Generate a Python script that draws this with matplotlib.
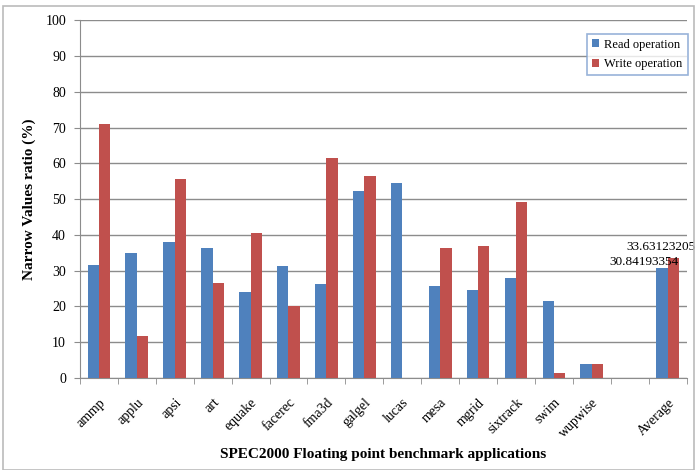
import matplotlib.pyplot as plt
from matplotlib.patches import Rectangle
import numpy as np

plt.rcParams['font.family'] = ['Liberation Serif', 'DejaVu Serif']

apps = ['ammp', 'applu', 'apsi', 'art', 'equake', 'facerec', 'fma3d', 'galgel',
        'lucas', 'mesa', 'mgrid', 'sixtrack', 'swim', 'wupwise', '', 'Average']
read_op = [31.5, 34.8, 38.0, 36.2, 24.0, 31.2, 26.3, 52.2,
           54.5, 25.8, 24.5, 28.0, 21.6, 4.0, 0, 30.84193354]
write_op = [71.0, 11.8, 55.5, 26.5, 40.5, 20.0, 61.5, 56.5,
            0, 36.2, 37.0, 49.3, 1.3, 4.0, 0, 33.63123205]

blue = '#4F81BD'
red = '#C0504D'

fig = plt.figure(figsize=(6.95, 4.70), dpi=100)
ax = fig.add_axes([0.115, 0.196, 0.873, 0.761])

x = np.arange(len(apps))
w = 0.3
ax.bar(x - w / 2, read_op, w, color=blue, label='Read operation', zorder=3)
ax.bar(x + w / 2, write_op, w, color=red, label='Write operation', zorder=3)

ax.set_xlim(-0.5, len(apps) - 0.5)
ax.set_ylim(0, 100)
ax.set_yticks(range(0, 101, 10))
ax.yaxis.grid(True, color='#8C8C8C', linewidth=1.0, zorder=0)

ax.set_xticks(x)
ax.set_xticklabels(apps, rotation=45, ha='right', rotation_mode='anchor', fontsize=10)
ax.tick_params(axis='x', which='major', length=0, pad=13)
ax.set_xticks(np.arange(-0.5, len(apps)), minor=True)
ax.tick_params(axis='x', which='minor', length=4, color='#8C8C8C', direction='out')
ax.tick_params(axis='y', length=4, color='#8C8C8C', labelsize=10, pad=6)

for s in ['top', 'right']:
    ax.spines[s].set_visible(False)
for s in ['left', 'bottom']:
    ax.spines[s].set_color('#8C8C8C')

ax.set_ylabel('Narrow Values ratio (%)', fontsize=11, fontweight='bold', labelpad=7)
ax.set_xlabel('SPEC2000 Floating point benchmark applications', fontsize=11,
              fontweight='bold', labelpad=6)

# data labels on the Average bars
last = len(apps) - 1
ax.annotate(f'{write_op[last]:.8f}', xy=(last + w / 2, write_op[last]),
            xytext=(-47, 11), textcoords='offset pixels', ha='left', va='center',
            fontsize=9.5)
ax.annotate(f'{read_op[last]:.8f}', xy=(last - w / 2, read_op[last]),
            xytext=(-53, 6), textcoords='offset pixels', ha='left', va='center',
            fontsize=9.5)

leg = ax.legend(loc='upper right', bbox_to_anchor=(1.012, 0.98), fontsize=9,
                frameon=True, fancybox=False, handlelength=0.6, handleheight=0.6,
                handletextpad=0.4, borderpad=0.4, labelspacing=0.6)
leg.get_frame().set_edgecolor('#7FA0CF')
leg.get_frame().set_linewidth(1.2)

fig.patches.append(Rectangle((0.005, 0.0), 0.994, 0.988, transform=fig.transFigure,
                             fill=False, edgecolor='#BBBBBB', linewidth=1.2))

fig.savefig('out.png', dpi=100)
